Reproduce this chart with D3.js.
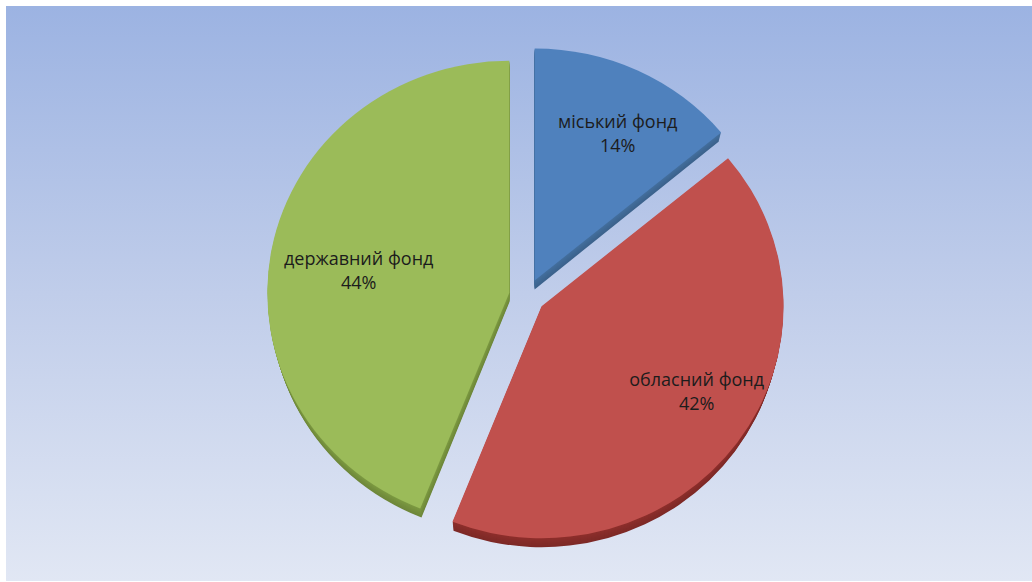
<!DOCTYPE html>
<html>
<head>
<meta charset="utf-8">
<script src="https://cdn.jsdelivr.net/npm/d3@7"></script>
<style>
  html, body { margin: 0; padding: 0; background: #ffffff; }
  svg { display: block; }
</style>
</head>
<body>
<svg id="chart" width="1032" height="582"></svg>
<script>
// Fund shares, clockwise from 12 o'clock
const categories = ["міський фонд", "обласний фонд", "державний фонд"];
const shares = [14, 42, 44];
const percentLabels = ["14%", "42%", "44%"];

const topColors  = ["#4f81bd", "#c0504d", "#9bbb59"];
const sideColors = ["#44709f", "#8e2f2c", "#7d9a42"];

const W = 1032, H = 582;
const svg = d3.select("#chart");

// Background panel with vertical gradient
const defs = svg.append("defs");
const bg = defs.append("linearGradient").attr("id", "bg")
  .attr("x1", 0).attr("y1", 0).attr("x2", 0).attr("y2", 1);
bg.append("stop").attr("offset", "0%").attr("stop-color", "#9cb3e2");
bg.append("stop").attr("offset", "50%").attr("stop-color", "#c0cdea");
bg.append("stop").attr("offset", "100%").attr("stop-color", "#e1e7f4");

svg.append("rect").attr("width", W).attr("height", H).attr("fill", "#ffffff");
svg.append("rect").attr("x", 6).attr("y", 6).attr("width", W - 6).attr("height", H - 7)
  .attr("fill", "url(#bg)");

// Exploded 3D pie geometry
const cx = 527, cy = 296;
const rx = 242, ry = 232;
const sy = ry / rx;
const explode = 18;
const depth = 9;
const converge = 0.0013;   // side walls lean slightly toward the centre line

const pie = d3.pie().sort(null).value(d => d);
const arcs = pie(shares);
const arc = d3.arc().innerRadius(0).outerRadius(rx);

const plot = svg.append("g")
  .attr("transform", `translate(${cx},${cy}) scale(1,${sy})`);

const slices = plot.selectAll("g.slice")
  .data(arcs)
  .join("g")
  .attr("class", "slice")
  .attr("transform", d => {
    const mid = (d.startAngle + d.endAngle) / 2;
    return `translate(${explode * Math.sin(mid)},${-explode * Math.cos(mid)})`;
  });

// side walls: stacked copies of the slice shape, darker toward the base
slices.each(function(d, i) {
  const g = d3.select(this);
  const mid = (d.startAngle + d.endAngle) / 2;
  const ox = explode * Math.sin(mid);
  for (let k = depth; k >= 1; k--) {
    const s = 1 - k * converge;
    g.append("path")
      .attr("d", arc(d))
      .attr("transform", `translate(${-ox * k * converge},${k / sy}) scale(${s},1)`)
      .attr("fill", d3.color(sideColors[i]).darker(k * 0.04));
  }
  g.append("path")
    .attr("d", arc(d))
    .attr("fill", topColors[i]);
});

// Labels at slice centroids
const labelRadius = 0.68 * rx;
const labelNudge = [[13, -4], [22, -7], [11, 7]];
const labels = svg.append("g")
  .attr("font-family", "'Open Sans', 'Noto Sans', sans-serif")
  .attr("font-size", 18)
  .attr("fill", "#1c1c1c")
  .attr("text-anchor", "middle");

arcs.forEach((d, i) => {
  const mid = (d.startAngle + d.endAngle) / 2;
  const ox = (explode + labelRadius) * Math.sin(mid);
  const oy = -(explode + labelRadius) * Math.cos(mid) * sy;
  const lx = cx + ox + labelNudge[i][0];
  const ly = cy + oy + labelNudge[i][1];
  const t = labels.append("text").attr("x", lx).attr("y", ly);
  t.append("tspan").attr("x", lx).attr("y", ly - 12).attr("dy", "0.35em").text(categories[i]);
  t.append("tspan").attr("x", lx).attr("y", ly + 12).attr("dy", "0.35em").text(percentLabels[i]);
});
</script>
</body>
</html>
